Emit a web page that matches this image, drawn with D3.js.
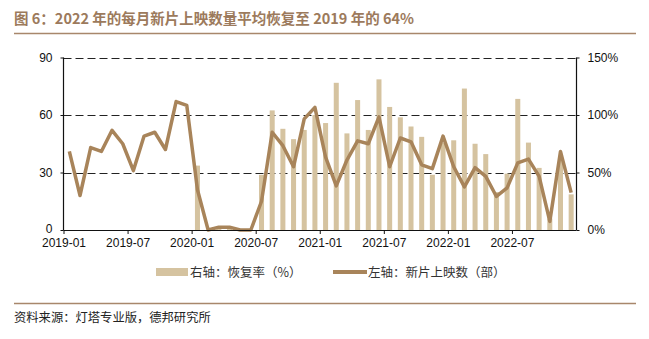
<!DOCTYPE html>
<html>
<head>
<meta charset="utf-8">
<script src="https://cdn.jsdelivr.net/npm/d3@7"></script>
<style>
  html, body { margin: 0; padding: 0; background: #fff; }
  svg { display: block; }
  text { font-family: "Liberation Sans", Arial, "Noto Sans CJK SC", sans-serif; }
  .cjk { font-family: "Noto Sans CJK SC", sans-serif; }
</style>
</head>
<body>
<script>
// ---- data ----
const months = [
  "2019-01","2019-02","2019-03","2019-04","2019-05","2019-06","2019-07","2019-08","2019-09","2019-10","2019-11","2019-12",
  "2020-01","2020-02","2020-03","2020-04","2020-05","2020-06","2020-07","2020-08","2020-09","2020-10","2020-11","2020-12",
  "2021-01","2021-02","2021-03","2021-04","2021-05","2021-06","2021-07","2021-08","2021-09","2021-10","2021-11","2021-12",
  "2022-01","2022-02","2022-03","2022-04","2022-05","2022-06","2022-07","2022-08","2022-09","2022-10","2022-11","2022-12"
];
// left axis: new films released (部)
const newFilms = [
  41, 18, 43, 41, 52, 45, 31, 49, 51, 42, 67, 65,
  21, 0, 1.5, 1.5, 0, 0, 15, 51, 44, 33, 58, 64,
  38, 23, 36.5, 46.5, 45, 59, 33, 48, 46, 34, 32, 49,
  33, 22.5, 32.5, 28, 17.5, 22, 35, 37, 28, 4.5, 41, 19.5
];
// right axis: recovery rate (%)
const recovery = [
  null, null, null, null, null, null, null, null, null, null, null, null,
  56, 0, 3, 3, 0, 0, 48, 104, 88, 79, 87, 100,
  93, 128, 84, 113, 87, 131, 107, 98, 90, 81, 48, 76,
  78, 123, 75, 66, 33, 49, 114, 76, 54, 10, 61, 31
];
const xTickLabels = ["2019-01","2019-07","2020-01","2020-07","2021-01","2021-07","2022-01","2022-07"];
const leftTicks = [0, 30, 60, 90];
const rightTicks = [0, 50, 100, 150];
const titleText = "图 6：2022 年的每月新片上映数量平均恢复至 2019 年的 64%";
const legendBar = "右轴：恢复率（%）";
const legendLine = "左轴：新片上映数（部）";
const sourceText = "资料来源：灯塔专业版，德邦研究所";

// ---- layout ----
const W = 649, H = 339;
const plotL = 63.5, plotR = 576.5, plotT = 57.5, plotB = 230;
const barColor = "#d5c3a0", lineColor = "#a8845a", brown = "#9c7a5c", ruleColor = "#a8876b";

const svg = d3.select("body").append("svg").attr("width", W).attr("height", H);

// title
svg.append("text").attr("class", "cjk").attr("x", 14).attr("y", 24)
  .attr("font-size", 14.5).attr("font-weight", "bold").attr("fill", brown).text(titleText);
svg.append("line").attr("x1", 14).attr("x2", 636).attr("y1", 33.5).attr("y2", 33.5)
  .attr("stroke", ruleColor).attr("stroke-width", 1.5);

const x = d3.scaleBand().domain(months).range([plotL + 0.5, plotR]).paddingInner(0.53).paddingOuter(0.265);
const xStep = d3.scaleBand().domain(months).range([plotL + 0.5, plotR]);
const yL = d3.scaleLinear().domain([0, 90]).range([plotB, plotT]);
const yR = d3.scaleLinear().domain([0, 150]).range([plotB, plotT]);

// gridlines
svg.append("g").selectAll("line").data(leftTicks.filter(d => d > 0)).join("line")
  .attr("x1", plotL).attr("x2", plotR)
  .attr("y1", d => Math.round(yL(d)) + 0.5).attr("y2", d => Math.round(yL(d)) + 0.5)
  .attr("stroke", "#222").attr("stroke-width", 1).attr("stroke-dasharray", "8,4");

// bars
svg.append("g").selectAll("rect").data(months.map((m, i) => ({ m, v: recovery[i] })).filter(d => d.v !== null && d.v > 0))
  .join("rect")
  .attr("x", d => x(d.m)).attr("width", x.bandwidth())
  .attr("y", d => yR(d.v)).attr("height", d => plotB - yR(d.v))
  .attr("fill", barColor);

// line
const line = d3.line().x((d, i) => xStep(months[i]) + xStep.bandwidth() / 2).y(d => yL(d));
svg.append("path").datum(newFilms).attr("d", line)
  .attr("fill", "none").attr("stroke", lineColor).attr("stroke-width", 3.5)
  .attr("stroke-linejoin", "round").attr("stroke-linecap", "butt");

// axes
const axisLeft = d3.axisLeft(yL).tickValues(leftTicks).tickSize(3).tickPadding(8);
const gL = svg.append("g").attr("transform", `translate(${plotL},0)`).call(axisLeft);
const axisRight = d3.axisRight(yR).tickValues(rightTicks).tickSize(3).tickPadding(8).tickFormat(d => d + "%");
const gR = svg.append("g").attr("transform", `translate(${plotR},0)`).call(axisRight);
const axisBottom = d3.axisBottom(xStep).tickValues(xTickLabels).tickSize(4).tickPadding(4).tickSizeOuter(0);
const gB = svg.append("g").attr("transform", `translate(0,${plotB})`).call(axisBottom);
// move bottom ticks to band start
gB.selectAll(".tick").attr("transform", d => `translate(${xStep(d)},0)`);
gB.select(".domain").attr("d", `M${plotL},0.5H${plotR}`);

[gL, gR, gB].forEach(g => {
  g.select(".domain").attr("stroke", "#111").attr("stroke-width", 1.2);
  g.selectAll(".tick line").attr("stroke", "#111");
  g.selectAll(".tick text").attr("font-size", 12).attr("fill", "#111")
    .attr("font-family", "'Liberation Sans', Arial, sans-serif");
});
gL.select(".domain").attr("d", `M0,${plotT}V${plotB}`);
gR.select(".domain").attr("d", `M0,${plotT}V${plotB}`);
// keep the "0" left label clear of the first date label
gL.selectAll(".tick text").filter(d => d === 0).attr("dy", "0.2em");

// legend
const lg = svg.append("g");
lg.append("rect").attr("x", 156).attr("y", 268).attr("width", 32).attr("height", 8).attr("fill", barColor);
lg.append("text").attr("class", "cjk").attr("x", 190).attr("y", 276.5).attr("font-size", 12.5).attr("fill", "#333").text(legendBar);
lg.append("line").attr("x1", 333).attr("x2", 367).attr("y1", 272).attr("y2", 272)
  .attr("stroke", lineColor).attr("stroke-width", 4);
lg.append("text").attr("class", "cjk").attr("x", 368).attr("y", 276.5).attr("font-size", 12.5).attr("fill", "#333").text(legendLine);

// footer
svg.append("line").attr("x1", 14).attr("x2", 636).attr("y1", 303.5).attr("y2", 303.5)
  .attr("stroke", ruleColor).attr("stroke-width", 1.5);
svg.append("text").attr("class", "cjk").attr("x", 14).attr("y", 322).attr("font-size", 12.3).attr("fill", "#222").text(sourceText);
</script>
</body>
</html>
